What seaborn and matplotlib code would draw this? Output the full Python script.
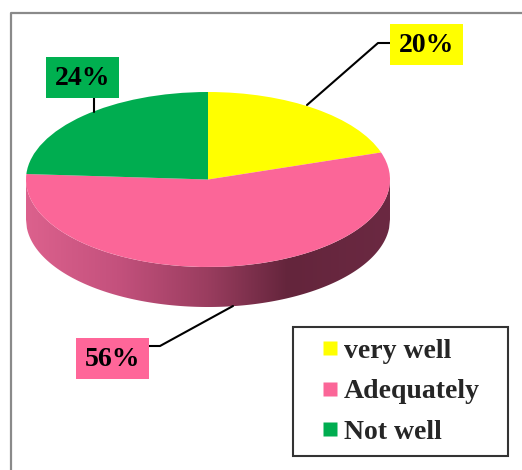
import numpy as np
import matplotlib
matplotlib.use("Agg")
import matplotlib.pyplot as plt
import seaborn as sns
from matplotlib.patches import Polygon, Rectangle
from matplotlib.lines import Line2D
from matplotlib.colors import LinearSegmentedColormap

# ---- data ----
categories = ["very well", "Adequately", "Not well"]
values = [20, 56, 24]
pct_labels = ["20%", "56%", "24%"]
colors = ["#FFFF00", "#FB6698", "#00AD50"]
box_colors = ["#FFFF00", "#FF6699", "#00B050"]

sns.set_theme(style="white")
plt.rcParams["font.family"] = ["Liberation Serif", "DejaVu Serif"]

W, H = 522, 470
fig = plt.figure(figsize=(W / 100, H / 100), dpi=100)

# overlay axes in pixel coordinates (decorations)
ov = fig.add_axes([0, 0, 1, 1], zorder=0)
ov.set_xlim(0, W)
ov.set_ylim(H, 0)
ov.axis("off")
ov.plot([11, 11, W + 5], [H + 5, 13, 13], color="#8a8a8a", lw=1.6, solid_capstyle="butt")

# pie axes: top ellipse spans x 26..390, y 92..267; side depth 40 px
depth = 40 / 87.5
px0, px1, py0, py1 = 26, 390, 92, 307
pa = fig.add_axes([px0 / W, 1 - py1 / H, (px1 - px0) / W, (py1 - py0) / H], zorder=1)
pa.axis("off")

# side of the 3D pie (front, pink)
xs = np.linspace(-1, 1, 400)
top = -np.sqrt(np.clip(1 - xs ** 2, 0, None))
poly_pts = np.vstack([np.column_stack([xs, top]),
                      np.column_stack([xs[::-1], top[::-1] - depth])])
side = Polygon(poly_pts, closed=True, facecolor="none", edgecolor="none")
pa.add_patch(side)
cmap = LinearSegmentedColormap.from_list(
    "side", [(0.0, "#DC618D"), (0.25, "#C4517D"), (0.5, "#9A3D5F"),
             (0.72, "#64253C"), (1.0, "#6B2942")])
grad = np.linspace(0, 1, 256)[None, :]
im = pa.imshow(grad, cmap=cmap, extent=(-1, 1, -1 - depth, 0), aspect="auto", zorder=0)
im.set_clip_path(side)

wedges, _ = pa.pie(values, colors=colors, startangle=90, counterclock=False,
                   wedgeprops=dict(linewidth=0), radius=1)
for w in wedges:
    w.set_zorder(2)
pa.set_aspect("auto")
pa.set_xlim(-1, 1)
pa.set_ylim(-1 - depth, 1)

# percentage labels with leader lines
label_boxes = [(390, 24, 73, 41), (76, 338, 73, 41), (46, 57, 73, 41)]
leaders = [[(390, 43), (378, 43), (307, 105)],
           [(149, 346), (160, 346), (233, 306)],
           [(94, 98), (94, 112)]]
for lab, col, (bx, by, bw, bh), ld in zip(pct_labels, box_colors, label_boxes, leaders):
    ov.add_patch(Rectangle((bx, by), bw, bh, facecolor=col, edgecolor="none", zorder=3))
    ov.text(bx + bw / 2, by + bh / 2 + 1, lab, ha="center", va="center",
            fontsize=20, fontweight="bold", color="black", zorder=4)
    lx, ly = zip(*ld)
    ov.plot(lx, ly, color="black", lw=1.5, zorder=2)
ov.set_zorder(3)
ov.patch.set_alpha(0)

# legend
handles = [Line2D([], [], marker="s", linestyle="none", markersize=10,
                  markerfacecolor=c, markeredgecolor="none") for c in colors]
leg = fig.legend(handles, categories, loc="upper left",
                 bbox_to_anchor=(293 / W, 1 - 327 / H, 215 / W, 0.0), mode="expand",
                 borderaxespad=0, frameon=True, fancybox=False,
                 prop=dict(family="Liberation Serif", weight="bold", size=20),
                 handlelength=1.88, handletextpad=-0.45, borderpad=0.4,
                 labelspacing=0.55)
leg.get_frame().set_edgecolor("black")
leg.get_frame().set_linewidth(1.5)
leg.set_zorder(5)

fig.savefig("out.png", dpi=100)
